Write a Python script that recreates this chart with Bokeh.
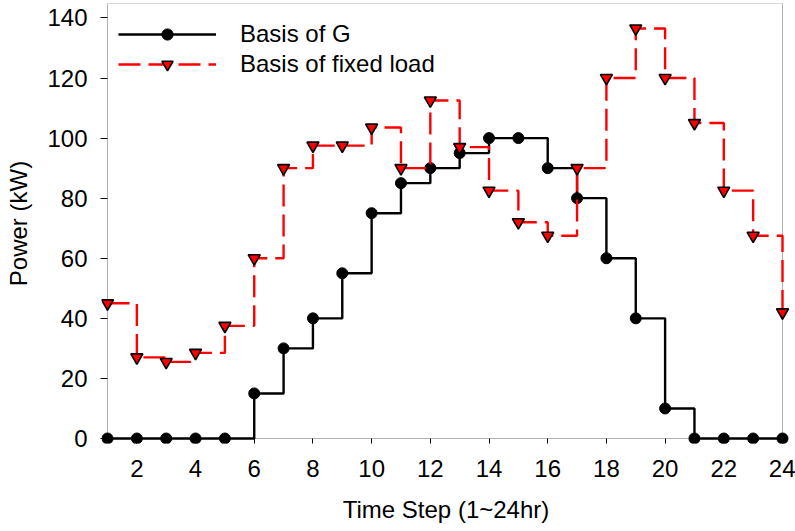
from bokeh.plotting import figure
from bokeh.models import Range1d, FixedTicker, Legend, LegendItem, BoxAnnotation
from bokeh.embed import file_html
from bokeh.resources import INLINE

hours = list(range(1, 25))
basis_g = [0, 0, 0, 0, 0, 15, 30, 40, 55, 75, 85, 90, 95, 100, 100, 90, 80, 60, 40, 10, 0, 0, 0, 0]
basis_load = [45, 27, 25.5, 28.5, 37.5, 60, 90, 97.5, 97.5, 103.5, 90, 112.5, 97, 82.5, 72, 67.5,
              90, 120, 136.5, 120, 105, 82.5, 67.5, 42]
x_ticks = list(range(2, 25, 2))
y_ticks = list(range(0, 141, 20))
x_min, x_max = 1, 24
y_min, y_max = 0, 144.8

FONT = "Liberation Sans"
FS = "24px"

# plot box: x 1..24 -> px 107..782, y 0..144.8 -> px 438..3
# frame is a few px larger so that markers on the box edges are not clipped
px_x = (782 - 107) / (x_max - x_min)
px_y = (438 - 3) / (y_max - y_min)
pad_l, pad_r, pad_b = 6, 8, 5
x_range = Range1d(x_min - pad_l / px_x, x_max + pad_r / px_x)
y_range = Range1d(y_min - pad_b / px_y, y_max)

p = figure(width=795, height=531, output_backend="svg", toolbar_location=None,
           x_range=x_range, y_range=y_range,
           min_border_left=107 - pad_l, min_border_right=795 - 782 - pad_r,
           min_border_top=3, min_border_bottom=531 - 438 - pad_b)
p.frame_width = 782 - 107 + pad_l + pad_r
p.frame_height = 438 - 3 + pad_b

p.xgrid.visible = False
p.ygrid.visible = False
p.outline_line_color = None
p.background_fill_color = "white"
p.border_fill_color = "white"

box = BoxAnnotation(left=x_min, right=x_max, bottom=y_min, top=y_max,
                    fill_alpha=0, line_color="black", line_width=1, level="underlay")
p.add_layout(box)

g_line = p.step(hours, basis_g, mode="after", line_color="black", line_width=2.4)
g_pts = p.scatter(hours, basis_g, marker="circle", size=11, fill_color="black", line_color="black")
l_line = p.step(hours, basis_load, mode="after", line_color="#FF0000", line_width=2.4, line_dash="22 8")
l_pts = p.scatter(hours, basis_load, marker="inverted_triangle", size=12, fill_color="#FF0000",
                  line_color="black", line_width=1.6)

for ax in (p.xaxis[0], p.yaxis[0]):
    ax.axis_line_color = None
    ax.minor_tick_line_color = None
    ax.major_tick_line_color = "black"
    ax.major_tick_line_width = 1
    ax.major_label_text_font = FONT
    ax.major_label_text_font_size = FS
    ax.major_label_text_color = "black"
    ax.axis_label_text_font = FONT
    ax.axis_label_text_font_size = FS
    ax.axis_label_text_font_style = "normal"
    ax.axis_label_text_color = "black"

p.xaxis.ticker = FixedTicker(ticks=x_ticks)
p.yaxis.ticker = FixedTicker(ticks=y_ticks)
# ticks: x 5px out of the box, y 7px out of the box
p.xaxis.major_tick_in = pad_b
p.xaxis.major_tick_out = 0
p.yaxis.major_tick_in = pad_l
p.yaxis.major_tick_out = 1
p.xaxis.major_label_standoff = 16
p.yaxis.major_label_standoff = 13
p.xaxis.axis_label = "Time Step (1~24hr)"
p.yaxis.axis_label = "Power (kW)"
p.xaxis.axis_label_standoff = 16
p.yaxis.axis_label_standoff = 12

legend = Legend(items=[LegendItem(label="Basis of G", renderers=[g_line, g_pts]),
                       LegendItem(label="Basis of fixed load", renderers=[l_line, l_pts])],
                location="top_left", margin=17, padding=11, spacing=2,
                glyph_width=98, glyph_height=28, label_height=28, label_standoff=24,
                label_text_font=FONT, label_text_font_size=FS, label_text_color="black",
                border_line_color=None, background_fill_alpha=0)
p.add_layout(legend)

open("out.html", "w").write(file_html(p, INLINE))
